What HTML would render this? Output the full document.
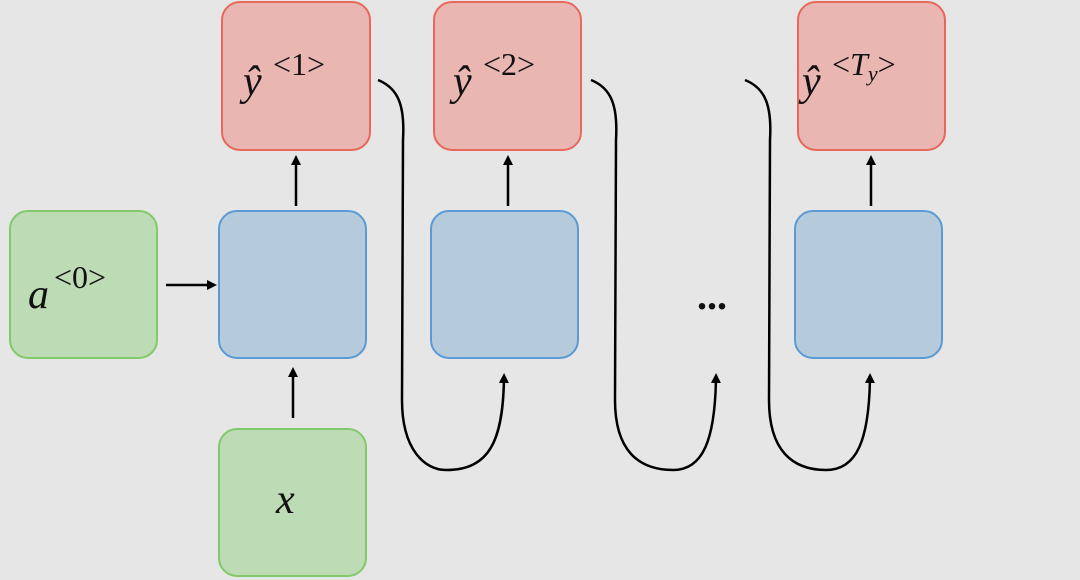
<!DOCTYPE html>
<html><head><meta charset="utf-8"><style>
html,body{margin:0;padding:0;background:#e6e6e6;}
svg{display:block}
text{font-family:"Liberation Serif",serif;fill:#111}
</style></head><body>
<svg width="1080" height="580" viewBox="0 0 1080 580" xmlns="http://www.w3.org/2000/svg">
<defs><marker id="ah" markerWidth="10" markerHeight="10" refX="5" refY="5" orient="auto" markerUnits="userSpaceOnUse" viewBox="0 0 10 10"><path d="M0,0 L10,5 L0,10 z" fill="#000"/></marker></defs>
<rect width="1080" height="580" fill="#e6e6e6"/>
<g stroke-width="2">
<rect x="10" y="211" width="147" height="147" rx="18" fill="#bddbb4" stroke="#82c96a"/>
<rect x="219" y="429" width="147" height="147" rx="18" fill="#bddbb4" stroke="#82c96a"/>
<rect x="219" y="211" width="147" height="147" rx="18" fill="#b5cadb" stroke="#5b9bd5"/>
<rect x="431" y="211" width="147" height="147" rx="18" fill="#b5cadb" stroke="#5b9bd5"/>
<rect x="795" y="211" width="147" height="147" rx="18" fill="#b5cadb" stroke="#5b9bd5"/>
<rect x="222" y="2" width="148" height="148" rx="18" fill="#eab6b2" stroke="#e8695c"/>
<rect x="434" y="2" width="147" height="148" rx="18" fill="#eab6b2" stroke="#e8695c"/>
<rect x="798" y="2" width="147" height="148" rx="18" fill="#eab6b2" stroke="#e8695c"/>
</g>
<g stroke="#000" stroke-width="2.5" fill="none">
<line x1="166" y1="285" x2="212" y2="285" marker-end="url(#ah)"/>
<line x1="296" y1="206" x2="296" y2="160" marker-end="url(#ah)"/>
<line x1="508" y1="206" x2="508" y2="160" marker-end="url(#ah)"/>
<line x1="871" y1="206" x2="871" y2="160" marker-end="url(#ah)"/>
<line x1="293" y1="418" x2="293" y2="372" marker-end="url(#ah)"/>
<path d="M378,80 C398,88 405,105 403,140 L402,400 C402,450 425,470 446,470 C490,470 503,440 504,378" marker-end="url(#ah)"/>
<path d="M591,80 C611,88 618,105 616,140 L615,400 C615,450 638,470 673,470 C703,470 715,440 716,378" marker-end="url(#ah)"/>
<path d="M745,80 C765,88 772,105 770,140 L769,400 C769,450 792,470 826,470 C857,470 869,440 870,378" marker-end="url(#ah)"/>
</g>
<text x="697" y="309" font-size="40" font-weight="bold">...</text>
<text x="28" y="308" font-size="42" font-style="italic">a</text>
<text x="54" y="288" font-size="32">&lt;0&gt;</text>
<text x="276" y="513" font-size="42" font-style="italic">x</text>
<text x="243" y="95" font-size="42" font-style="italic">ŷ</text>
<text x="273" y="75" font-size="32">&lt;1&gt;</text>
<text x="453" y="95" font-size="42" font-style="italic">ŷ</text>
<text x="483" y="75" font-size="32">&lt;2&gt;</text>
<text x="802" y="95" font-size="42" font-style="italic">ŷ</text>
<text x="832" y="75" font-size="32">&lt;<tspan font-style="italic">T</tspan><tspan font-style="italic" font-size="22" dy="6">y</tspan><tspan dy="-6">&gt;</tspan></text>
</svg>
</body></html>
